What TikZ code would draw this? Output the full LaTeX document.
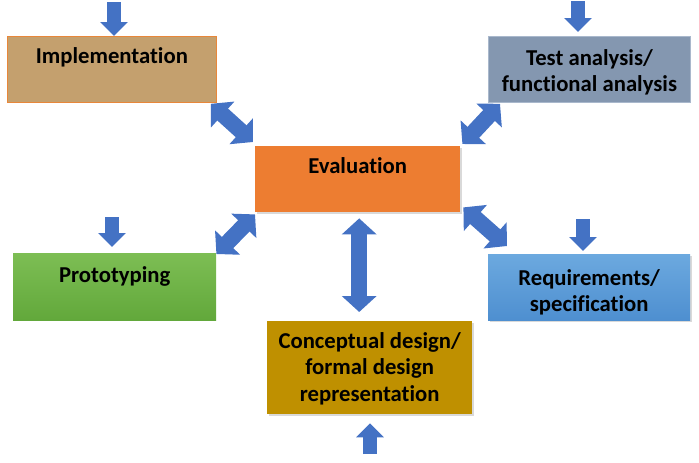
\documentclass[tikz,border=0pt]{standalone}
\usepackage{fontspec}
\setmainfont[Ligatures=NoCommon]{Carlito}
\usetikzlibrary{arrows.meta,shadows,calc}
\definecolor{arrowblue}{HTML}{4472C4}
\definecolor{implfill}{HTML}{C4A06E}
\definecolor{implline}{HTML}{E8873A}
\definecolor{testfill}{HTML}{8497B0}
\definecolor{testline}{HTML}{A9B8CC}
\definecolor{evalfill}{HTML}{ED7D31}
\definecolor{prototop}{HTML}{7DBE54}
\definecolor{protobot}{HTML}{62A83B}
\definecolor{reqtop}{HTML}{6CA9DF}
\definecolor{reqbot}{HTML}{4E8FD0}
\definecolor{conceptfill}{HTML}{BF9000}
\begin{document}
\begin{tikzpicture}[x=1pt,y=-1pt,
  box/.style={rectangle, inner sep=0pt, anchor=north west},
  lbl/.style={font=\bfseries\fontsize{22.7}{26.8}\selectfont, align=center, anchor=base, inner sep=0pt, text=black},
  dbl/.style={arrowblue, line width=16pt, {Triangle[length=16pt,width=34pt]}-{Triangle[length=16pt,width=34pt]}},
  sgl/.style={arrowblue, line width=14pt, -{Triangle[length=14pt,width=27pt]}},
  shadowed/.style={drop shadow={shadow xshift=1.5pt,shadow yshift=-2pt,opacity=0.3}}
]
\useasboundingbox (0,0) rectangle (699,463);

% boxes
\node[box, minimum width=209pt, minimum height=66pt, fill=implfill, draw=implline, line width=0.8pt] (impl) at (7,36) {};
\node[box, minimum width=202pt, minimum height=66pt, fill=testfill, draw=testline, line width=0.8pt] (test) at (488,36) {};
\node[box, minimum width=205pt, minimum height=66pt, fill=evalfill, shadowed] (eval) at (255,146) {};
\node[box, minimum width=203pt, minimum height=67pt, top color=prototop, bottom color=protobot] (proto) at (13,253) {};
\node[box, minimum width=202pt, minimum height=66pt, top color=reqtop, bottom color=reqbot, shadowed] (req) at (488,254) {};
\node[box, minimum width=205pt, minimum height=93pt, fill=conceptfill, shadowed] (concept) at (267,321) {};

% labels (anchor=base is the baseline of the last line)
\node[lbl] (implt) at ($(impl.north)+(0,27)$) {Implementation};
\node[lbl] (testt) at ($(test.north)+(0,55.8)$) {Test analysis/\\functional analysis};
\node[lbl] (evalt) at ($(eval.north)+(0,27)$) {Evaluation};
\node[lbl] (protot) at ($(proto.north)+(0,29)$) {Prototyping};
\node[lbl] (reqt) at ($(req.north)+(0,57.8)$) {Requirements/\\specification};
\node[lbl] (conceptt) at ($(concept.north)+(0,80.6)$) {Conceptual design/\\formal design\\representation};

% double arrows
\draw[dbl] ($(impl.south east)+(-6,1)$) -- ($(eval.north west)+(-2,-4)$);
\draw[dbl] ($(eval.north east)+(2,-2)$) -- ($(test.south west)+(12,1)$);
\draw[dbl] ($(eval.south west)+(0,2)$) -- ($(proto.north east)+(0,1)$);
\draw[dbl] ($(eval.south east)+(3,-5)$) -- ($(req.north west)+(19,-8)$);
\draw[dbl] ($(eval.south)+(1.5,6)$) -- ($(eval.south |- concept.north)+(1.5,-9)$);

% single arrows
\coordinate (s1) at (114,2);
\draw[sgl] (s1) -- (s1 |- impl.north);
\coordinate (s2) at (578,1);
\draw[sgl] (s2) -- ($(s2 |- test.north)+(0,-4)$);
\coordinate (s3) at (112,217);
\draw[sgl] (s3) -- ($(s3 |- proto.north)+(0,-6)$);
\coordinate (s4) at (583,219);
\draw[sgl] (s4) -- ($(s4 |- req.north)+(0,-3)$);
\coordinate (s5) at (370,454);
\draw[sgl] (s5) -- ($(s5 |- concept.south)+(0,9)$);
\end{tikzpicture}
\end{document}
